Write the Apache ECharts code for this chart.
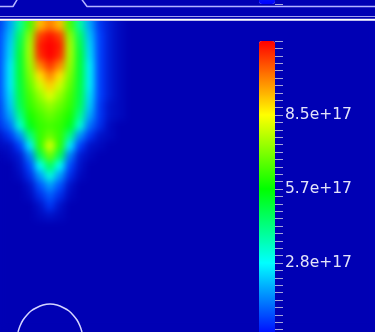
<!DOCTYPE html>
<html>
<head>
<meta charset="utf-8">
<script src="https://cdn.jsdelivr.net/npm/echarts@6/dist/echarts.min.js"></script>
<style>
  html, body { margin: 0; padding: 0; background: #0000b4; }
  #wrap { position: relative; width: 375px; height: 332px; overflow: hidden; }
  #fieldClip { position: absolute; left: 0; top: 21px; width: 375px; height: 311px; overflow: hidden; }
  #field { position: absolute; left: 0; top: 0; width: 375px; height: 311px; filter: url(#smooth); }
  #overlay { position: absolute; left: 0; top: 0; width: 375px; height: 332px; }
</style>
</head>
<body>
<!-- normalised smoothing of the sampled field: blur, then restore full opacity -->
<svg width="0" height="0" style="position:absolute">
  <filter id="smooth" x="0" y="0" width="1" height="1" color-interpolation-filters="sRGB">
    <feGaussianBlur stdDeviation="3.6"/>
    <feComponentTransfer><feFuncA type="linear" slope="3"/></feComponentTransfer>
  </filter>
</svg>
<div id="wrap">
  <div id="fieldClip"><div id="field"></div></div>
  <div id="overlay"></div>
</div>
<script>
// Cell centres across the slice (x) and down from the top edge (depth)
const columnCentres = [0, 10, 20, 30, 40, 50, 60, 70, 80, 90, 100, 110, 120, 130, 140, 150, 160, 170, 180,
  190, 200, 210, 220, 230, 240, 250, 260, 270, 280, 290, 300, 310, 320, 330, 340, 350, 360, 370];
const rowDepths = [5, 15, 25, 35, 45, 55, 65, 75, 85, 95, 105, 115, 125, 135, 145, 155, 165, 175, 185, 195,
  205, 215, 225, 235, 245, 255, 265, 275, 285, 295, 305];

// Density in units of 1e17, one row per depth, columns x = 0 … 120 (zero elsewhere)
const density = [
  [0.6, 1.8, 3.9, 6.4, 9.2, 9.9, 9.2, 6.4, 3.9, 1.8, 0.6, 0.3, 0.1],
  [0.7, 2.1, 4.6, 7.2, 10.6, 11.1, 10.6, 7.2, 4.6, 2.1, 0.7, 0.3, 0.1],
  [0.7, 2.3, 4.9, 7.5, 11.0, 11.3, 11.0, 7.5, 4.9, 2.3, 0.7, 0.3, 0.1],
  [0.7, 2.4, 5.1, 7.5, 10.8, 11.3, 10.8, 7.5, 5.1, 2.4, 0.7, 0.3, 0.1],
  [0.7, 2.6, 5.1, 7.3, 9.8, 10.7, 9.8, 7.3, 5.1, 2.6, 0.7, 0.3, 0.1],
  [0.7, 2.6, 5.1, 7.0, 8.8, 9.8, 8.8, 7.0, 5.1, 2.6, 0.7, 0.3, 0.1],
  [0.7, 2.6, 5.0, 6.7, 7.9, 9.0, 7.9, 6.7, 5.0, 2.6, 0.7, 0.3, 0.1],
  [0.7, 2.4, 4.9, 6.4, 7.3, 8.1, 7.3, 6.4, 4.9, 2.4, 0.7, 0.3, 0.1],
  [0.6, 2.2, 4.7, 6.2, 6.8, 7.3, 6.8, 6.2, 4.7, 2.2, 0.6, 0.2, 0.1],
  [0.6, 1.8, 4.1, 5.9, 6.4, 6.8, 6.4, 5.9, 4.1, 1.8, 0.6, 0.2, 0.1],
  [0.5, 1.2, 3.3, 5.4, 6.2, 6.4, 6.2, 5.4, 3.3, 1.2, 0.5, 0.1, 0.0],
  [0.2, 0.6, 1.6, 4.2, 6.2, 6.8, 6.2, 4.2, 1.6, 0.6, 0.2, 0.1, 0.0],
  [0.1, 0.2, 0.7, 2.6, 6.1, 8.1, 6.1, 2.6, 0.7, 0.2, 0.1, 0.0, 0.0],
  [0.0, 0.1, 0.3, 1.4, 4.7, 6.8, 4.7, 1.4, 0.3, 0.1, 0.0, 0.0, 0.0],
  [0.0, 0.0, 0.2, 0.8, 2.9, 4.7, 2.9, 0.8, 0.2, 0.0, 0.0, 0.0, 0.0],
  [0.0, 0.0, 0.1, 0.5, 1.7, 3.2, 1.7, 0.5, 0.1, 0.0, 0.0, 0.0, 0.0],
  [0.0, 0.0, 0.0, 0.2, 0.9, 1.7, 0.9, 0.2, 0.0, 0.0, 0.0, 0.0, 0.0],
  [0.0, 0.0, 0.0, 0.1, 0.5, 1.0, 0.5, 0.1, 0.0, 0.0, 0.0, 0.0, 0.0],
  [0.0, 0.0, 0.0, 0.0, 0.2, 0.6, 0.2, 0.0, 0.0, 0.0, 0.0, 0.0, 0.0],
  [0.0, 0.0, 0.0, 0.0, 0.1, 0.2, 0.1, 0.0, 0.0, 0.0, 0.0, 0.0, 0.0]
];
const densityMax = 11.3; // top of the colour scale, 1e17 units

// Colour-bar scale: 0 … 1.13e18 in quarters, with labelled inner quarters
const scaleMax = 1.13e18;
const scaleStep = 2.825e17;
const barTickValues = [2.825e17, 5.65e17, 8.475e17];
const barTickLabels = ['2.8e+17', '5.7e+17', '8.5e+17'];

// Electrode tip outline in the field view (x, depth)
const tipX = [18, 20, 23, 27, 31, 36, 43, 50, 57, 64, 69, 73, 77, 80, 82];
const tipDepth = [311, 305, 299, 294, 290, 287, 284, 283, 284, 287, 290, 294, 299, 305, 311];
// Boundary seen at the bottom of the upper view (x, height in that view)
const upperLeftX = [0, 13, 17.5];
const upperLeftY = [6.5, 6.5, -1];
const upperRightX = [81.5, 87, 375];
const upperRightY = [-1, 6.5, 6.5];

// Blue-to-red rainbow; the field fades to the dark backdrop at zero
const barColors = ['#0000ff', '#0040ff', '#0080ff', '#00bfff', '#00ffff', '#00ffbf', '#00ff80', '#00ff40',
  '#00ff00', '#40ff00', '#80ff00', '#bfff00', '#ffff00', '#ffbf00', '#ff8000', '#ff4000', '#ff0000'];
const fieldColors = ['#0000b4'].concat(barColors.slice(1));

const zip = (xs, ys) => xs.map((x, i) => [x, ys[i]]);

// ---------- field (smoothed heatmap over every cell of the slice) ----------
const cells = [];
rowDepths.forEach((d, r) => columnCentres.forEach((x, c) => {
  const row = density[r] || [];
  cells.push([c, r, row[c] !== undefined ? row[c] : 0]);
}));

const field = echarts.init(document.getElementById('field'), null, { renderer: 'canvas' });
field.setOption({
  animation: false,
  grid: { left: -5, top: 0, width: 380, height: 310, outerBoundsMode: 'none' },
  xAxis: { type: 'category', data: columnCentres, show: false },
  yAxis: { type: 'category', data: rowDepths, inverse: true, show: false },
  visualMap: { show: false, min: 0, max: densityMax, seriesIndex: 0, inRange: { color: fieldColors } },
  series: [{ type: 'heatmap', data: cells, itemStyle: { borderWidth: 0 }, emphasis: { disabled: true } }]
});

// ---------- colour bars, outlines, frame ----------
const hidden = { show: false };
const tickStyle = { color: '#a4a4dc', width: 1 };
const mainScale = {
  type: 'value', gridIndex: 0, min: 0, max: scaleMax, interval: scaleStep, position: 'left',
  axisLine: hidden, splitLine: hidden, minorSplitLine: hidden,
  axisTick: { show: true, inside: true, length: 8, lineStyle: tickStyle },
  minorTick: { show: true, splitNumber: 10, length: 8, lineStyle: tickStyle },
  axisLabel: {
    show: true, inside: true, margin: 10, color: '#e4e4fa',
    fontFamily: 'DejaVu Sans', fontSize: 15.5,
    formatter: (v) => {
      const i = barTickValues.findIndex((t) => Math.abs(t - v) < 1e15);
      return i >= 0 ? barTickLabels[i] : '';
    }
  }
};
// only the lower end of the upper view's colour bar is in frame
const upperScale = {
  type: 'value', gridIndex: 3, min: 0, max: scaleMax / 74, position: 'left',
  axisLine: hidden, splitLine: hidden, axisLabel: hidden,
  axisTick: { show: true, inside: true, length: 8, lineStyle: tickStyle, customValues: [0] }
};
const outline = { color: '#d4d4ff', width: 1.5 };
const upperOutline = { color: '#b4b4ff', width: 1.5 };

const overlay = echarts.init(document.getElementById('overlay'), null, { renderer: 'canvas' });
overlay.setOption({
  animation: false,
  grid: [
    { left: 275, top: 41, width: 10, height: 296, outerBoundsMode: 'none' },
    { left: 0, top: 21, width: 375, height: 311, outerBoundsMode: 'none' },
    { left: 0, top: 0, width: 375, height: 17, outerBoundsMode: 'none' },
    { left: 275, top: 0, width: 10, height: 4, outerBoundsMode: 'none' }
  ],
  xAxis: [
    { type: 'value', gridIndex: 0, min: 0, max: 1, show: false },
    { type: 'value', gridIndex: 1, min: 0, max: 375, show: false },
    { type: 'value', gridIndex: 2, min: 0, max: 375, show: false },
    { type: 'value', gridIndex: 3, min: 0, max: 1, show: false }
  ],
  yAxis: [
    mainScale,
    { type: 'value', gridIndex: 1, min: 0, max: 311, inverse: true, show: false },
    { type: 'value', gridIndex: 2, min: 0, max: 17, inverse: true, show: false },
    upperScale
  ],
  visualMap: [
    { type: 'continuous', show: true, min: 0, max: densityMax, calculable: false, hoverLink: false,
      left: 254, top: 36, padding: 5, itemWidth: 16, itemHeight: 296, seriesIndex: 3,
      inRange: { color: barColors } },
    { type: 'continuous', show: true, min: 0, max: densityMax, calculable: false, hoverLink: false,
      left: 254, top: -297, padding: 5, itemWidth: 16, itemHeight: 296, seriesIndex: 3,
      inRange: { color: barColors } }
  ],
  graphic: [
    { type: 'line', shape: { x1: 0, y1: 16.5, x2: 375, y2: 16.5 }, style: { stroke: '#9c9cec', lineWidth: 1 } },
    { type: 'line', shape: { x1: 0, y1: 19.7, x2: 375, y2: 19.7 }, style: { stroke: '#ffffff', lineWidth: 2 } }
  ],
  series: [
    { type: 'line', xAxisIndex: 1, yAxisIndex: 1, data: zip(tipX, tipDepth), smooth: 0.3,
      showSymbol: false, lineStyle: outline, silent: true },
    { type: 'line', xAxisIndex: 2, yAxisIndex: 2, data: zip(upperLeftX, upperLeftY),
      showSymbol: false, lineStyle: upperOutline, silent: true },
    { type: 'line', xAxisIndex: 2, yAxisIndex: 2, data: zip(upperRightX, upperRightY),
      showSymbol: false, lineStyle: upperOutline, silent: true },
    { type: 'scatter', xAxisIndex: 0, yAxisIndex: 0, data: [] }
  ]
});
</script>
</body>
</html>
